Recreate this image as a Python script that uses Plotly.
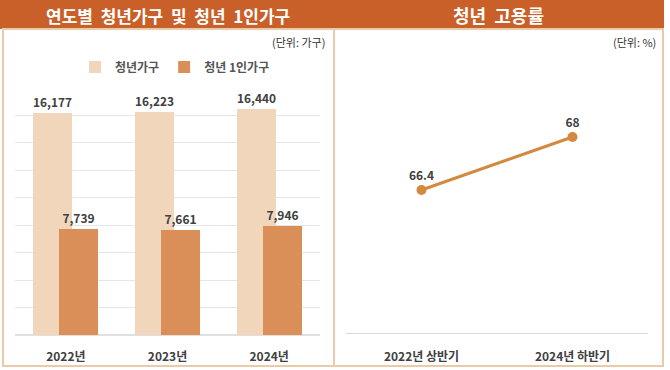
import plotly.graph_objects as go

# ---- data ----
years = ["2022년", "2023년", "2024년"]
youth_households = [16177, 16223, 16440]
youth_single = [7739, 7661, 7946]

periods = ["2022년 상반기", "2024년 하반기"]
employment_rate = [66.4, 68]

W, H = 670, 370
FONT = "Noto Sans CJK KR"
HEADER = "#C9602A"
BORDER = "#E9CBAA"
LIGHT = "#F2D6BC"
DARK = "#DA8F58"
LINE = "#D3893F"
TXT = "#404040"

def px(x):
    return x / W

def py(y):
    return 1 - y / H

fig = go.Figure()

bw = 0.385
fig.add_trace(go.Bar(
    x=years, y=youth_households, name="청년가구",
    marker=dict(color=LIGHT, line=dict(width=0)),
    width=bw, offset=-0.128 - bw / 2,
    texttemplate="%{y:,}", textposition="outside",
    textfont=dict(family=FONT, size=12, color=TXT, weight="bold"),
    cliponaxis=False, xaxis="x", yaxis="y",
))
fig.add_trace(go.Bar(
    x=years, y=youth_single, name="청년 1인가구",
    marker=dict(color=DARK, line=dict(width=0)),
    width=bw, offset=0.128 - bw / 2,
    texttemplate="%{y:,}", textposition="outside",
    textfont=dict(family=FONT, size=12, color=TXT, weight="bold"),
    cliponaxis=False, xaxis="x", yaxis="y",
))

fig.add_trace(go.Scatter(
    x=periods, y=employment_rate, mode="lines+markers+text",
    line=dict(color=LINE, width=3), marker=dict(color=LINE, size=10),
    text=[str(v) for v in employment_rate], textposition="top center",
    textfont=dict(family=FONT, size=12, color=TXT, weight="bold"),
    showlegend=False, cliponaxis=False, xaxis="x2", yaxis="y2",
))

shapes = [
    dict(type="rect", xref="paper", yref="paper", x0=px(0), x1=px(664), y0=py(29), y1=py(0),
         fillcolor=HEADER, line=dict(width=0), layer="below"),
    dict(type="rect", xref="paper", yref="paper", x0=px(3), x1=px(663), y0=py(366), y1=py(29),
         fillcolor="rgba(0,0,0,0)", line=dict(color=BORDER, width=2)),
    dict(type="line", xref="paper", yref="paper", x0=px(334), x1=px(334), y0=py(366), y1=py(29),
         line=dict(color=BORDER, width=2)),
]

def ann(text, x, y, size, color, xanchor="center", bold=False):
    return dict(text=text, x=px(x), y=py(y), xref="paper", yref="paper",
                xanchor=xanchor, yanchor="middle", showarrow=False,
                font=dict(family=FONT, size=size, color=color,
                          weight="bold" if bold else "normal"))

NB = " \u00a0"
annotations = [
    ann(NB.join(["연도별", "청년가구", "및", "청년", "1인가구"]), 168, 15, 17, "white", bold=True),
    ann("청년" + NB + "고용률", 498, 15, 18, "white", bold=True),
    ann("(단위: 가구)", 327, 42, 11, "#333333", xanchor="right"),
    ann("(단위: %)", 658, 42, 11, "#333333", xanchor="right"),
]

fig.update_layout(
    width=W, height=H, margin=dict(l=0, r=0, t=0, b=0),
    paper_bgcolor="white", plot_bgcolor="white",
    barmode="overlay", bargap=0,
    font=dict(family=FONT, color=TXT),
    shapes=shapes, annotations=annotations,
    legend=dict(orientation="h", x=px(175), y=py(67), xanchor="center", yanchor="middle",
                font=dict(family=FONT, size=12, color="#555555", weight="bold"),
                itemwidth=30, traceorder="normal", bgcolor="rgba(0,0,0,0)"),
    xaxis=dict(domain=[px(15), px(320)], range=[-0.5, 2.5], showgrid=False, showline=False,
               ticks="", ticklabelstandoff=13,
               tickfont=dict(family=FONT, size=12, color=TXT, weight="bold")),
    yaxis=dict(domain=[py(335), py(88)], range=[0, 18000], dtick=2000, showgrid=True,
               gridcolor="#E6E6E6", gridwidth=1, showticklabels=False, zeroline=True,
               zerolinecolor="#E0E0E0", showline=False, fixedrange=True),
    xaxis2=dict(domain=[px(346), px(648)], range=[-0.5, 1.5], anchor="y2", showgrid=False,
                showline=True, linecolor="#D9D9D9", linewidth=1, ticks="", ticklabelstandoff=13,
                tickfont=dict(family=FONT, size=12, color=TXT, weight="bold")),
    yaxis2=dict(domain=[py(333), py(88)], range=[62.08, 69.48], anchor="x2", showgrid=False,
                showticklabels=False, zeroline=False, showline=False),
)

fig.write_html("out.html", config={"displayModeBar": False},
               post_script="document.body.style.margin='0';")
